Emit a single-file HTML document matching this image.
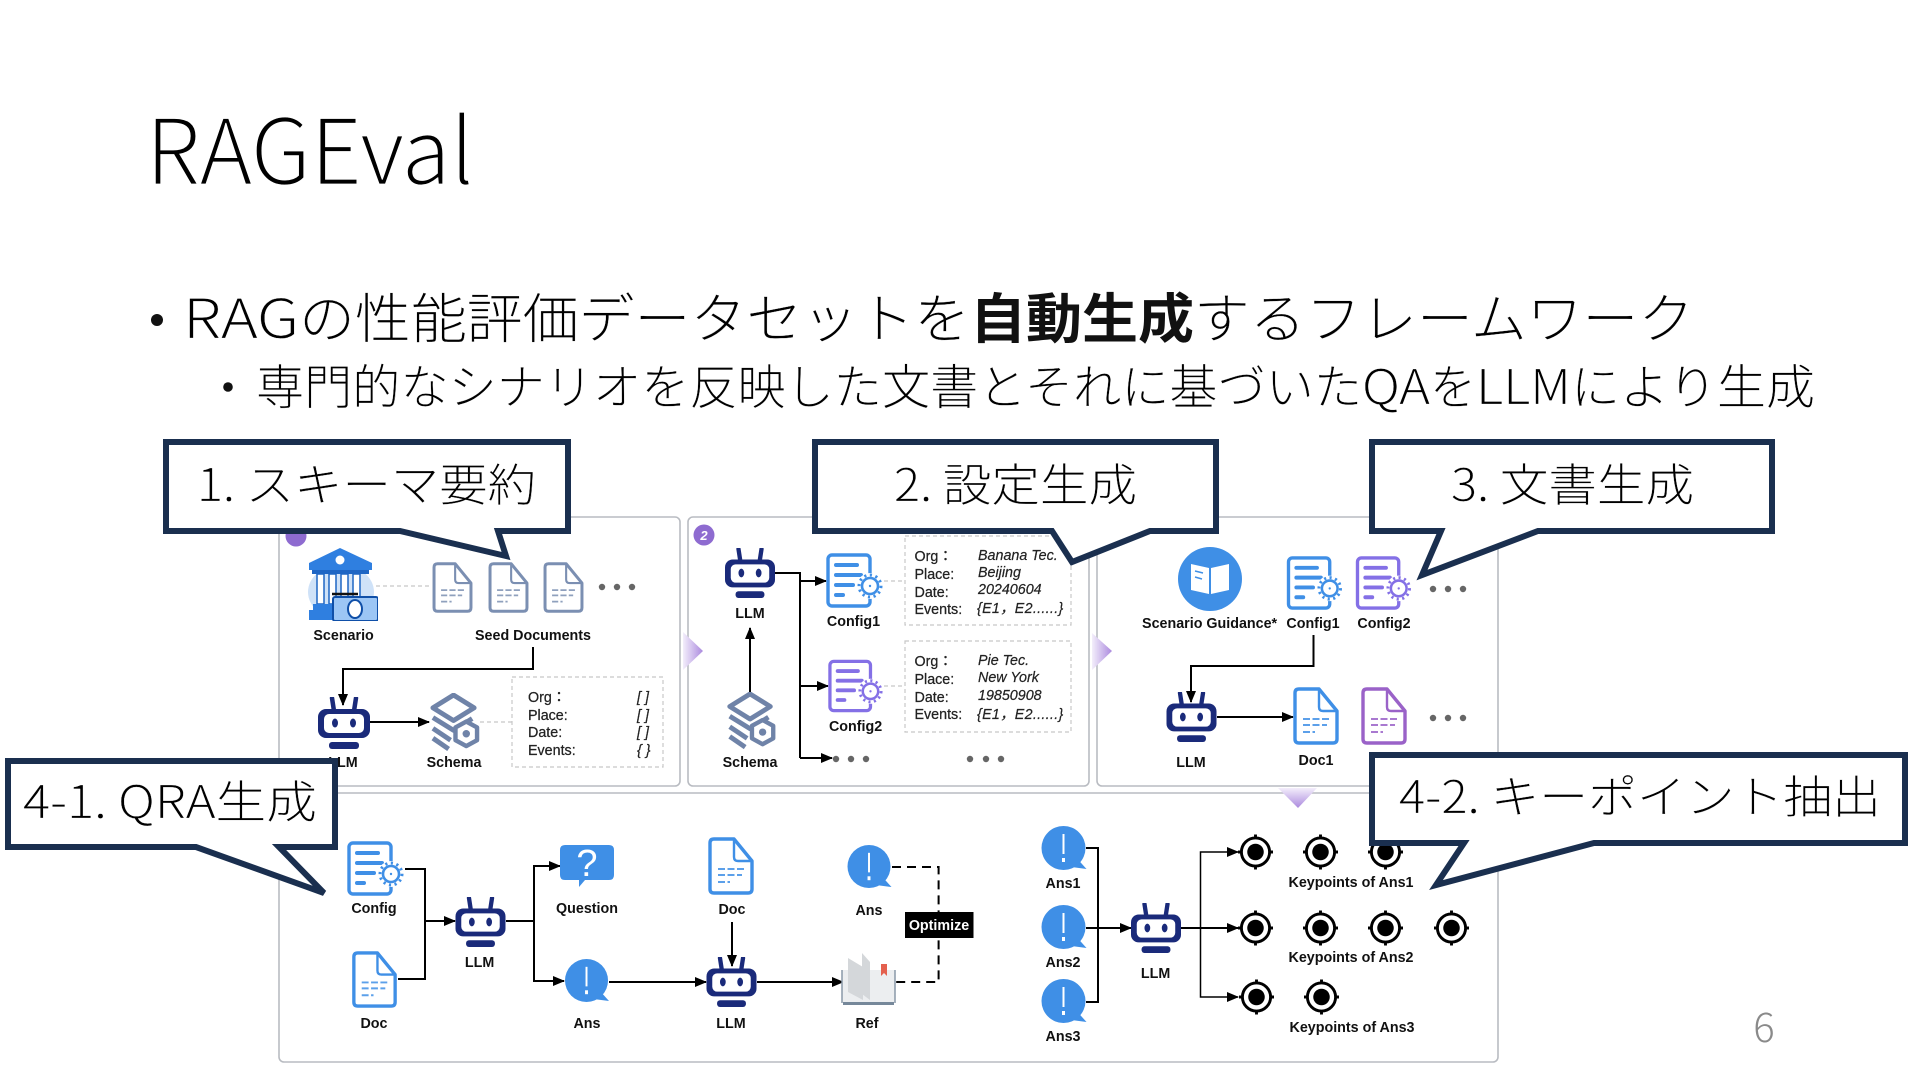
<!DOCTYPE html>
<html lang="ja"><head><meta charset="utf-8"><title>RAGEval</title>
<style>
html,body{margin:0;padding:0;background:#fff;width:1920px;height:1080px;overflow:hidden}
svg{display:block}
.j{font-family:"Noto Sans CJK JP","Liberation Sans",sans-serif;font-weight:300;fill:#000;stroke:#fff;stroke-width:.25}
.t{font-family:"Noto Sans CJK JP","Liberation Sans",sans-serif;font-weight:300;fill:#000;stroke:#fff;stroke-width:.7}
.b{font-family:"Noto Sans CJK JP","Liberation Sans",sans-serif;font-weight:700;fill:#111}
.l{font-family:"Liberation Sans",sans-serif;font-weight:700;font-size:14.3px;fill:#111;text-anchor:middle}
.m{font-family:"Liberation Sans",sans-serif;font-size:14.3px;fill:#222;stroke:#222;stroke-width:.25}
.i{font-family:"Liberation Sans",sans-serif;font-style:italic;font-size:14.3px;fill:#222;stroke:#222;stroke-width:.2}
.c{fill:#fff;stroke:#1a2f4f;stroke-width:6;stroke-linejoin:miter}
.p{fill:none;stroke:#b9bcc2;stroke-width:1.6}
.a{fill:none;stroke:#000;stroke-width:2;marker-end:url(#ah)}
.n{fill:none;stroke:#000;stroke-width:2}
.d{fill:none;stroke:#c8c8c8;stroke-width:1.2;stroke-dasharray:4 3}
.q{fill:none;stroke:#000;stroke-width:2;stroke-dasharray:9 6}
</style></head><body>
<svg width="1920" height="1080" viewBox="0 0 1920 1080" xmlns="http://www.w3.org/2000/svg">
<defs>
<marker id="ah" markerWidth="12" markerHeight="11" refX="11" refY="5" orient="auto" markerUnits="userSpaceOnUse"><path d="M0 0L12 5L0 10Z" fill="#000"/></marker>
<linearGradient id="gr" x1="0" x2="1" y1="0" y2="0"><stop offset="0" stop-color="#f3eefb"/><stop offset="1" stop-color="#ab8ade"/></linearGradient>
<linearGradient id="gd" x1="0" x2="0" y1="0" y2="1"><stop offset="0" stop-color="#f3eefb"/><stop offset="1" stop-color="#ab8ade"/></linearGradient>
<symbol id="robot" viewBox="0 0 52 52">
<path d="M14 1L16 14M38 1L36 14" stroke="#1a2a7a" stroke-width="4.5" stroke-linecap="round"/>
<rect x="0" y="12" width="52" height="29" rx="8" fill="#1a2a7a"/>
<rect x="6" y="17" width="40" height="19" rx="5" fill="#fff"/>
<ellipse cx="17" cy="26" rx="3" ry="4.5" fill="#1a2a7a"/><ellipse cx="35" cy="26" rx="3" ry="4.5" fill="#1a2a7a"/>
<rect x="11" y="45" width="30" height="7" rx="3" fill="#1a2a7a"/>
</symbol>
<symbol id="config" viewBox="0 0 58 55">
<rect x="2" y="2" width="42" height="51" rx="4" fill="#fff" stroke="currentColor" stroke-width="3.4"/>
<rect x="8" y="10" width="25" height="4" rx="2" fill="currentColor"/><rect x="8" y="20" width="29" height="4" rx="2" fill="currentColor"/><rect x="8" y="30" width="21" height="4" rx="2" fill="currentColor"/><rect x="8" y="40" width="11" height="4" rx="2" fill="currentColor"/>
<circle cx="44" cy="33" r="13" fill="#fff"/>
<circle cx="44" cy="33" r="8" fill="#fff" stroke="currentColor" stroke-width="2.6"/>
<circle cx="44" cy="33" r="11" fill="none" stroke="currentColor" stroke-width="3" stroke-dasharray="2.2 3.5"/>
<circle cx="44" cy="33" r="1.2" fill="currentColor"/>
</symbol>
<symbol id="doc" viewBox="0 0 46 58">
<path d="M6 2H26L44 24V52Q44 56 40 56H6Q2 56 2 52V6Q2 2 6 2Z" fill="#fff" stroke="currentColor" stroke-width="3.4" stroke-linejoin="round"/>
<path d="M26 2V20Q26 24 30 24H44" fill="none" stroke="currentColor" stroke-width="2.4"/>
<path d="M10 32H36M10 38H34M10 45H22" stroke="currentColor" stroke-width="2" stroke-dasharray="7 2.5" fill="none" opacity=".85"/>
</symbol>
<symbol id="ans" viewBox="0 0 45 45">
<path d="M36 33L45 43L30 41Z" fill="#3f8fe6"/>
<ellipse cx="22" cy="22" rx="22" ry="22" fill="#3f8fe6"/>
<rect x="21" y="8" width="2" height="20" fill="#fff"/><rect x="20.5" y="32" width="3" height="4" fill="#fff"/>
</symbol>
<symbol id="target" viewBox="0 0 36 36">
<path d="M18 0V6M18 30V36M0 18H6M30 18H36" stroke="#000" stroke-width="3"/>
<circle cx="18" cy="18" r="14.5" fill="#fff" stroke="#000" stroke-width="3"/>
<circle cx="18" cy="18" r="8.5" fill="#000"/>
</symbol>
<symbol id="schema" viewBox="0 0 52 60">
<path d="M25 2L46 15L25 28L4 15Z" fill="none" stroke="#6f83a8" stroke-width="5" stroke-linejoin="round"/>
<path d="M4 25L25 38L44 26M4 36L22 48M4 46L20 57" fill="none" stroke="#6f83a8" stroke-width="5" stroke-linejoin="round"/>
<path d="M38 29L49 35V48L38 54L27 48V35Z" fill="#fff" stroke="#6f83a8" stroke-width="4.5" stroke-linejoin="round"/>
<circle cx="38" cy="41.5" r="3.8" fill="#6f83a8"/>
</symbol>
<symbol id="bank" viewBox="0 0 70 73">
<ellipse cx="33" cy="44" rx="33" ry="27" fill="#cfe2f8"/>
<path d="M32 0L64 15V22H1V15Z" fill="#2f7fe0"/><circle cx="32" cy="12" r="4.5" fill="#fff"/>
<rect x="4" y="22" width="57" height="4" fill="#1f66c4"/>
<g fill="#fff" stroke="#1f66c4" stroke-width="1.5"><rect x="9" y="26" width="7" height="30"/><rect x="21" y="26" width="7" height="30"/><rect x="33" y="26" width="7" height="30"/><rect x="45" y="26" width="7" height="30"/></g>
<rect x="5" y="56" width="30" height="6" fill="#2f7fe0"/><rect x="1" y="62" width="38" height="10" fill="#2f7fe0"/>
<rect x="25" y="49" width="45" height="24" rx="2" fill="#9cc6f5" stroke="#0f4fa8" stroke-width="2"/>
<path d="M24 46H50" stroke="#111" stroke-width="2.5"/>
<ellipse cx="47" cy="61" rx="7" ry="9" fill="#fff" stroke="#0f4fa8" stroke-width="2"/>
</symbol>
</defs>

<!-- title -->
<text class="t" x="146" y="184" font-size="90" textLength="328" lengthAdjust="spacingAndGlyphs">RAGEval</text>
<circle cx="157" cy="320" r="6" fill="#111"/>
<text class="j" x="183" y="338" font-size="54" textLength="116" lengthAdjust="spacingAndGlyphs">RAG</text>
<text class="j" x="299" y="338" font-size="54" textLength="671" lengthAdjust="spacingAndGlyphs">の性能評価データセットを</text>
<text class="b" x="970" y="338" font-size="54" textLength="224" lengthAdjust="spacingAndGlyphs">自動生成</text>
<text class="j" x="1194" y="338" font-size="54" textLength="500" lengthAdjust="spacingAndGlyphs">するフレームワーク</text>
<circle cx="228" cy="387" r="4.8" fill="#111"/>
<text class="j" x="256" y="404" font-size="48" textLength="1106" lengthAdjust="spacingAndGlyphs">専門的なシナリオを反映した文書とそれに基づいた</text>
<text class="j" x="1362" y="404" font-size="48" textLength="68" lengthAdjust="spacingAndGlyphs">QA</text>
<text class="j" x="1430" y="404" font-size="48" textLength="46" lengthAdjust="spacingAndGlyphs">を</text>
<text class="j" x="1476" y="404" font-size="48" textLength="95" lengthAdjust="spacingAndGlyphs">LLM</text>
<text class="j" x="1571" y="404" font-size="48" textLength="244" lengthAdjust="spacingAndGlyphs">により生成</text>

<!-- panels -->
<rect class="p" x="279" y="517" width="401" height="269" rx="5"/>
<rect class="p" x="688" y="517" width="401" height="269" rx="5"/>
<rect class="p" x="1097" y="517" width="401" height="269" rx="5"/>
<rect class="p" x="279" y="793" width="1219" height="269" rx="5"/>
<path d="M683 632L703 651L683 670Z" fill="url(#gr)"/>
<path d="M1092 633L1112 651L1092 670Z" fill="url(#gr)"/>
<path d="M1278 788H1317L1298 808Z" fill="url(#gd)"/>

<!-- panel 1 -->
<circle cx="296" cy="536" r="10.5" fill="#8e6bd0"/>
<use href="#bank" x="308" y="548" width="70" height="73"/>
<path class="d" d="M376 586H431"/>
<use href="#doc" color="#7b8fb2" x="432" y="562" width="41" height="51"/>
<use href="#doc" color="#7b8fb2" x="488" y="562" width="41" height="51"/>
<use href="#doc" color="#7b8fb2" x="543" y="562" width="41" height="51"/>
<g fill="#666"><circle cx="602" cy="587" r="3.2"/><circle cx="617" cy="587" r="3.2"/><circle cx="632" cy="587" r="3.2"/></g>
<text class="l" x="343.6" y="640">Scenario</text>
<text class="l" x="533" y="640">Seed Documents</text>
<path class="a" d="M533 647V669H343V705"/>
<use href="#robot" x="318" y="697" width="52" height="52"/>
<text class="l" x="343" y="767">LLM</text>
<path class="a" d="M370 722H429"/>
<use href="#schema" x="429" y="693" width="51" height="59"/>
<text class="l" x="454" y="767">Schema</text>
<path class="d" d="M480 722H512"/>
<rect class="d" x="512" y="677" width="151" height="90"/>
<text class="m" x="528" y="702">Org：</text><text class="m" x="528" y="720">Place:</text><text class="m" x="528" y="737">Date:</text><text class="m" x="528" y="755">Events:</text>
<text class="i" x="637" y="702">[ ]</text><text class="i" x="637" y="720">[ ]</text><text class="i" x="637" y="737">[ ]</text><text class="i" x="637" y="755">{ }</text>

<!-- panel 2 -->
<circle cx="704" cy="535" r="10.5" fill="#8e6bd0"/>
<text x="704" y="540" text-anchor="middle" font-family="Liberation Sans" font-weight="700" font-style="italic" font-size="13" fill="#fff">2</text>
<use href="#robot" x="725" y="548" width="50" height="50"/>
<text class="l" x="750" y="618">LLM</text>
<path class="a" d="M750 692V628"/>
<use href="#schema" x="725" y="692" width="52" height="58"/>
<text class="l" x="750" y="767">Schema</text>
<path class="n" d="M775 573H800V758"/>
<path class="a" d="M800 581H826"/><path class="a" d="M800 686H828"/><path class="a" d="M800 758H832"/>
<g fill="#666"><circle cx="836" cy="759" r="3.2"/><circle cx="851" cy="759" r="3.2"/><circle cx="866" cy="759" r="3.2"/><circle cx="970" cy="759" r="3.2"/><circle cx="986" cy="759" r="3.2"/><circle cx="1001" cy="759" r="3.2"/></g>
<use href="#config" color="#3f8fe6" x="826" y="553" width="58" height="55"/>
<text class="l" x="853.5" y="626">Config1</text>
<use href="#config" color="#8470e6" x="828" y="659" width="56" height="54"/>
<text class="l" x="855.6" y="731">Config2</text>
<path class="d" d="M884 581H905M884 686H905"/>
<rect class="d" x="905" y="536" width="166" height="89"/>
<rect class="d" x="905" y="641" width="166" height="91"/>
<text class="m" x="914.5" y="561">Org：</text><text class="m" x="914.5" y="579">Place:</text><text class="m" x="914.5" y="597">Date:</text><text class="m" x="914.5" y="614">Events:</text>
<text class="i" x="978" y="560">Banana Tec.</text><text class="i" x="978" y="577">Beijing</text><text class="i" x="978" y="594">20240604</text><text class="i" x="977" y="613" letter-spacing=".3">{E1，E2......}</text>
<text class="m" x="914.5" y="666">Org：</text><text class="m" x="914.5" y="684">Place:</text><text class="m" x="914.5" y="702">Date:</text><text class="m" x="914.5" y="719">Events:</text>
<text class="i" x="978" y="665">Pie Tec.</text><text class="i" x="978" y="682">New York</text><text class="i" x="978" y="700">19850908</text><text class="i" x="977" y="719" letter-spacing=".3">{E1，E2......}</text>

<!-- panel 3 -->
<circle cx="1210" cy="579" r="32" fill="#3f8fe6"/>
<path d="M1191 564L1209 568V594L1191 590ZM1229 564L1211 568V594L1229 590Z" fill="#fff"/>
<path d="M1195 571L1203 573M1195 577L1202 579" stroke="#3f8fe6" stroke-width="1.5"/>
<use href="#config" color="#3f8fe6" x="1286" y="556" width="58" height="54"/>
<use href="#config" color="#8470e6" x="1355" y="556" width="58" height="54"/>
<text class="l" x="1209.6" y="628">Scenario Guidance*</text>
<text class="l" x="1313" y="628">Config1</text>
<text class="l" x="1384" y="628">Config2</text>
<g fill="#666"><circle cx="1433" cy="589" r="3.2"/><circle cx="1448" cy="589" r="3.2"/><circle cx="1463" cy="589" r="3.2"/><circle cx="1433" cy="718" r="3.2"/><circle cx="1448" cy="718" r="3.2"/><circle cx="1463" cy="718" r="3.2"/></g>
<path class="a" d="M1313.5 635V666H1191V702"/>
<use href="#robot" x="1166" y="692" width="51" height="50"/>
<text class="l" x="1191" y="767">LLM</text>
<path class="a" d="M1217 717H1293"/>
<use href="#doc" color="#3f8fe6" x="1293" y="687" width="46" height="58"/>
<text class="l" x="1316" y="765">Doc1</text>
<use href="#doc" color="#9a62c8" x="1361" y="687" width="46" height="58"/>

<!-- bottom -->
<use href="#config" color="#3f8fe6" x="347" y="841" width="58" height="55"/>
<text class="l" x="374" y="913">Config</text>
<use href="#doc" color="#3f8fe6" x="351" y="951" width="47" height="57"/>
<text class="l" x="374" y="1028">Doc</text>
<path class="n" d="M405 869H425V979H398"/>
<path class="a" d="M425 921H455"/>
<use href="#robot" x="455" y="897" width="51" height="50"/>
<text class="l" x="479.6" y="967">LLM</text>
<path class="n" d="M506 921H534"/>
<path class="a" d="M534 921V866H560"/><path class="a" d="M534 921V981H564"/>
<path d="M565 845H609Q614 845 614 850V875Q614 880 609 880H585L579 887V880H565Q560 880 560 875V850Q560 845 565 845Z" fill="#3f8fe6"/>
<text x="587" y="876" text-anchor="middle" font-family="Liberation Sans" font-size="38" fill="#fff">?</text>
<text class="l" x="587" y="913">Question</text>
<use href="#ans" x="564" y="959" width="46" height="44"/>
<text class="l" x="587" y="1028">Ans</text>
<path class="a" d="M609 982H706"/>
<use href="#doc" color="#3f8fe6" x="708" y="837" width="46" height="58"/>
<text class="l" x="732" y="914">Doc</text>
<path class="a" d="M732 922V966"/>
<use href="#robot" x="706" y="957" width="51" height="50"/>
<text class="l" x="731" y="1028">LLM</text>
<path class="a" d="M757 982H843"/>
<!-- book -->
<rect x="842" y="970" width="53" height="32" fill="#eceef0"/>
<path d="M843 1002H894V1005H843Z" fill="#76889a"/>
<path d="M842 970V1003M895 970V1003" stroke="#8a98a8" stroke-width="1.5"/>
<path d="M848 958L863 967V1000L848 992ZM862 953L870 962V1000L862 994Z" fill="#d4d7da"/>
<path d="M881 964H887V976L884 973L881 976Z" fill="#e4604e"/>
<text class="l" x="867" y="1028">Ref</text>
<use href="#ans" x="846.5" y="845" width="46" height="44"/>
<text class="l" x="869" y="915">Ans</text>
<path class="q" d="M892 867H938.6V982H892"/>
<rect x="905" y="912" width="68.5" height="26" fill="#000"/>
<text class="l" x="939" y="930" style="fill:#fff">Optimize</text>

<use href="#ans" x="1041" y="826" width="46" height="45"/>
<use href="#ans" x="1041" y="905" width="46" height="45"/>
<use href="#ans" x="1041" y="979" width="46" height="45"/>
<text class="l" x="1063" y="888">Ans1</text><text class="l" x="1063" y="967">Ans2</text><text class="l" x="1063" y="1041">Ans3</text>
<path class="n" d="M1086 848H1098V1002H1086"/>
<path class="a" d="M1086 928H1131"/>
<use href="#robot" x="1131" y="903" width="50" height="50"/>
<text class="l" x="1155.6" y="978">LLM</text>
<path class="a" d="M1181 928H1238"/>
<path class="a" style="stroke-width:1.5" d="M1200.5 928V852H1238"/>
<path class="a" style="stroke-width:1.5" d="M1200.5 928V997H1238"/>
<use href="#target" x="1238" y="834" width="35" height="36"/>
<use href="#target" x="1303" y="834" width="35" height="36"/>
<use href="#target" x="1368" y="834" width="35" height="36"/>
<use href="#target" x="1238" y="910" width="35" height="36"/>
<use href="#target" x="1303" y="910" width="35" height="36"/>
<use href="#target" x="1368" y="910" width="35" height="36"/>
<use href="#target" x="1434" y="910" width="35" height="36"/>
<use href="#target" x="1239" y="979" width="35" height="36"/>
<use href="#target" x="1304" y="979" width="35" height="36"/>
<text class="l" x="1351" y="887">Keypoints of Ans1</text>
<text class="l" x="1351" y="962">Keypoints of Ans2</text>
<text class="l" x="1352" y="1032">Keypoints of Ans3</text>

<text x="1764" y="1042" text-anchor="middle" font-family="Noto Sans CJK JP,Liberation Sans,sans-serif" font-weight="300" font-size="40" fill="#8a8a8a">6</text>

<!-- callouts -->
<path class="c" d="M166 442H568V531H498L506 556L400 531H166Z"/>
<text class="j" x="197" y="501" font-size="45" textLength="339" lengthAdjust="spacingAndGlyphs">1. スキーマ要約</text>
<path class="c" d="M815 442H1216V531H1150L1072 562L1052 531H815Z"/>
<text class="j" x="894" y="501" font-size="45" textLength="243" lengthAdjust="spacingAndGlyphs">2. 設定生成</text>
<path class="c" d="M1372 442H1772V531H1538L1422 575L1441 531H1372Z"/>
<text class="j" x="1451" y="501" font-size="45" textLength="243" lengthAdjust="spacingAndGlyphs">3. 文書生成</text>
<path class="c" d="M8 761H335V847H279L324 893L196 847H8Z"/>
<text class="j" x="23" y="818" font-size="45" textLength="294" lengthAdjust="spacingAndGlyphs">4-1. QRA生成</text>
<path class="c" d="M1372 755H1905V843H1594L1436 885L1464 843H1372Z"/>
<text class="j" x="1399" y="813" font-size="45" textLength="482" lengthAdjust="spacingAndGlyphs">4-2. キーポイント抽出</text>
</svg>
</body></html>
